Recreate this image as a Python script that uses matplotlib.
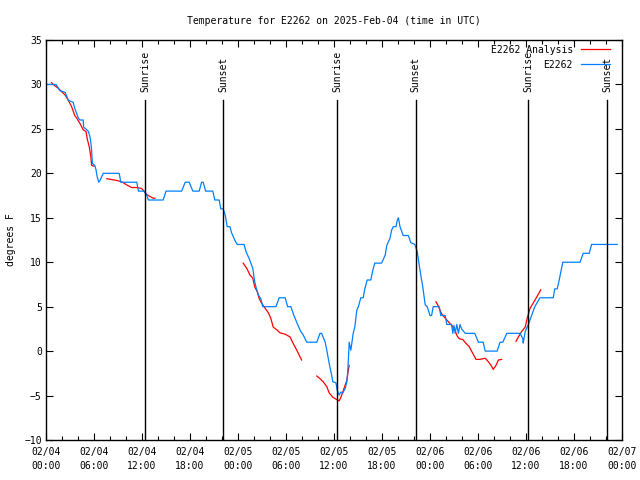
import matplotlib
matplotlib.use("Agg")
import matplotlib.pyplot as plt
import matplotlib.dates as mdates
import matplotlib.transforms as mtransforms
import numpy as np
import datetime as dt

# hours since 2025-02-04 00:00 UTC
obs_hours = [0, 1.25, 1.75, 2.4, 2.8, 3.4, 3.6, 4.05, 4.25, 4.65, 4.7, 5.1, 5.3, 5.5, 5.6,
             5.7, 5.8, 6.1, 6.25, 6.4, 6.6, 6.75, 7.15, 9.15, 9.35, 11.35, 11.55, 12.25,
             12.6, 12.8, 14.65, 15, 16.95, 17.4, 17.9, 18.35, 19.15, 19.45, 19.65, 19.95,
             20.85, 21.1, 21.65, 21.85, 22.15, 22.4, 22.65, 23, 23.2, 23.7, 23.9, 24.75, 25,
             25.4, 25.85, 26.05, 26.25, 26.55, 26.85, 27.1, 28.75, 29.15, 29.9, 30.2, 30.6,
             31, 31.4, 31.85, 32.1, 32.6, 33.85, 34.25, 34.45, 34.9, 35.1, 35.4, 35.7,
             35.85, 36.25, 36.4, 36.65, 36.85, 37.1, 37.4, 37.6, 37.7, 37.8, 37.9, 38.1,
             38.2, 38.4, 38.6, 38.85, 39.05, 39.35, 39.65, 39.85, 40.15, 40.6, 40.85, 41.1,
             41.95, 42.4, 42.6, 43, 43.2, 43.4, 43.75, 43.9, 44.05, 44.25, 44.65, 45.3,
             45.6, 46.1, 46.4, 46.75, 47.1, 47.4, 47.65, 48, 48.2, 48.4, 49.15, 49.35, 49.9,
             50.1, 50.7, 50.85, 51, 51.15, 51.35, 51.55, 51.75, 51.95, 52.4, 53.6, 54.05,
             54.65, 54.9, 56.4, 56.75, 57.1, 57.6, 59.25, 59.6, 59.65, 59.9, 60.3, 60.7,
             61.1, 61.75, 63.4, 63.6, 63.9, 64.15, 64.6, 66.75, 67.15, 67.9, 68.2, 71.4]
obs_temps = [30, 30, 29.3, 29.1, 28.2, 28, 27.3, 26.2, 26, 26, 25.2, 24.9, 24.7, 24.1, 23.5,
             22.6, 21.1, 20.9, 20.4, 19.6, 19, 19.2, 20, 20, 19, 19, 18, 18,
             17.5, 17, 17, 18, 18, 19, 19, 18, 18, 19, 19, 18,
             18, 17, 17, 16, 16, 15.3, 14, 14, 13.3, 12.3, 12, 12, 11.2,
             10.4, 9.3, 8, 7.2, 6.3, 5.9, 5, 5, 6, 6, 5, 5,
             4, 3.1, 2.2, 1.9, 1, 1, 2, 2, 1, 0.1, -1.4, -2.7,
             -3.45, -3.57, -4.4, -4.95, -4.6, -4.7, -4.2, -3.45, -2.5, -0.9, 1.0, 0.1,
             0.7, 2.0, 2.7, 4.6, 5, 6, 6, 7, 8, 8, 9.1, 9.9,
             9.9, 10.8, 11.9, 12.7, 13.6, 14, 14, 14.7, 15, 14, 13, 13,
             12.2, 12, 11.2, 9.1, 7.2, 5.2, 5, 4, 4, 5, 5, 4, 4,
             3, 3, 2, 2.9, 2, 3, 2, 3, 2.5, 2, 2, 1,
             1, 0, 0, 1, 1, 2, 2, 1.4, 0.9, 2.2, 3, 4,
             5, 6, 6, 7, 7, 8, 10, 10, 11, 11, 12, 12]

# analysis series, gaps marked with nan
ana_hours = [0.7, 0.9, 1.55, 1.95, 2.4, 2.8, 3.2, 3.6, 3.85, 4.25, 4.65, 5.0, 5.15, 5.4, 5.6, 5.7, 6.0,
             6.8,
             7.6, 8.2, 8.85, 9.45, 10.1, 10.7, 11.35, 11.95, 12.25, 12.6, 13, 13.4, 13.6,
             19.0,
             24.65, 25.1, 25.5, 25.85, 26.1, 26.4, 26.65, 26.95, 27.4, 27.8, 28.1, 28.4, 28.85,
             29.25, 29.9, 30.5, 30.9, 31.35, 31.75, 31.95,
             33.0,
             33.85, 34.25, 34.65, 35.1, 35.4, 35.85, 36.25, 36.65, 36.9, 37.1, 37.4, 37.6, 37.8, 37.9,
             43.0,
             48.75, 49.05, 49.45, 49.9, 50.3, 50.7, 51.1, 51.4, 51.65, 52.1, 52.5, 52.9, 53.35,
             53.75, 54.25, 54.9, 55.3, 55.7, 55.9, 56.25, 56.55, 56.95,
             58.0,
             58.75, 59.05, 59.45, 59.9, 60.15, 60.5, 60.9, 61.35, 61.85]
ana_temps = [30.2, 30, 29.55, 29.2, 28.8, 28.2, 27.5, 26.5, 26.2, 25.6, 24.9, 24.7, 23.9, 23, 21.9, 20.9, 20.8,
             np.nan,
             19.4, 19.3, 19.2, 19.05, 18.7, 18.4, 18.4, 18.3, 18, 17.6, 17.4, 17.2, 17.2,
             np.nan,
             9.9, 9.3, 8.55, 8.2, 7.2, 6.7, 5.9, 5.4, 4.8, 4.3, 3.7, 2.7, 2.4,
             2.06, 1.9, 1.6, 0.86, 0.1, -0.64, -1.0,
             np.nan,
             -2.8, -3.1, -3.45, -4.0, -4.7, -5.2, -5.4, -5.6, -5.1, -4.6, -3.8, -3.3, -2.1, -1.6,
             np.nan,
             5.55, 5.06, 4.2, 3.7, 3.3, 2.9, 2.36, 1.7, 1.4, 1.3, 0.86, 0.5, -0.26,
             -0.93, -0.93, -0.8, -1.2, -1.7, -2.06, -1.6, -1.0, -0.93,
             np.nan,
             1.1, 1.6, 2.2, 2.7, 3.7, 4.8, 5.4, 6.1, 6.9]

sun_hours = [12.4, 22.17, 36.4, 46.2, 60.3, 70.16]
sun_labels = ["Sunrise", "Sunset", "Sunrise", "Sunset", "Sunrise", "Sunset"]

start = mdates.date2num(dt.datetime(2025, 2, 4))
def to_dates(h):
    return start + np.asarray(h, dtype=float) / 24.0

FONT = "DejaVu Sans Mono"
FS = 7.0
plt.rcParams['font.family'] = FONT
plt.rcParams['font.size'] = FS

fig = plt.figure(figsize=(6.4, 4.8), dpi=100)
ax = fig.add_axes([46 / 640, 40 / 480, 576 / 640, 400 / 480])

ax.plot(to_dates(ana_hours), ana_temps, color='#ff0000', lw=0.9, label='E2262 Analysis')
ax.plot(to_dates(obs_hours), obs_temps, color='#0080ff', lw=0.9, label='E2262')

trans = mtransforms.blended_transform_factory(ax.transData, ax.transAxes)
for h, lab in zip(sun_hours, sun_labels):
    x = to_dates([h])[0]
    ax.axvline(x, ymin=0, ymax=0.85, color='black', lw=1.0)
    ax.text(x, 0.87, lab, rotation=90, transform=trans, ha='center', va='bottom',
            fontsize=FS)

ax.set_xlim(start, start + 3)
ax.set_ylim(-10, 35)
ax.set_yticks(np.arange(-10, 36, 5))
ax.xaxis.set_major_locator(mdates.HourLocator(byhour=[0, 6, 12, 18]))
ax.xaxis.set_minor_locator(mdates.HourLocator(byhour=range(0, 24, 2)))
ax.xaxis.set_major_formatter(mdates.DateFormatter('%m/%d\n%H:%M'))
ax.tick_params(which='both', direction='in', top=True, right=True, labelsize=FS)
ax.tick_params(which='major', length=5, width=0.8)
ax.tick_params(which='minor', length=3, width=0.8)
ax.tick_params(axis='x', pad=5)
ax.tick_params(axis='y', pad=3)
for lbl in ax.get_xticklabels():
    lbl.set_linespacing(1.5)
for s in ax.spines.values():
    s.set_linewidth(1.0)

ax.set_ylabel('degrees F', fontsize=FS, labelpad=6)
ax.set_title('Temperature for E2262 on 2025-Feb-04 (time in UTC)', fontsize=FS, pad=11.5)

ax.legend(loc='upper right', bbox_to_anchor=(0.979, 0.988), frameon=False, markerfirst=False,
          borderaxespad=0, borderpad=0, handlelength=3.0, handletextpad=0.8,
          labelspacing=0.5, fontsize=FS)

fig.savefig('out.png', dpi=100)
